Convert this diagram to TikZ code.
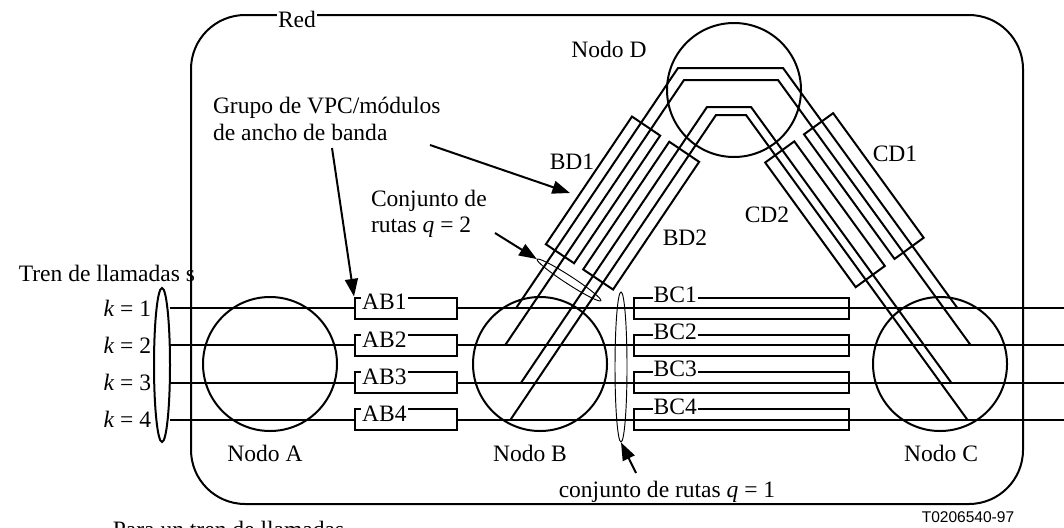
\documentclass[tikz,border=0pt]{standalone}
\usepackage{fontspec}
\setmainfont{Liberation Serif}
\newfontfamily\arialfont{Liberation Sans}
\usetikzlibrary{arrows.meta,shapes.geometric}
\tikzset{
  nodo/.style={draw,circle,minimum size=134*0.425pt,inner sep=0pt},
  caja/.style={draw,rectangle,minimum height=21*0.425pt,inner sep=0pt},
  etq/.style={fill=white,inner sep=0.5pt},
  flecha/.style={-{Triangle[length=7.5pt,width=5.5pt]}},
  conj/.style={draw,ellipse,line width=0.4pt,inner sep=0pt}
}
\begin{document}
\begin{tikzpicture}[x=0.425pt,y=-0.425pt,line width=0.85pt,font=\fontsize{10}{11.5}\selectfont]
\useasboundingbox (0,0) rectangle (1064,527);
\draw[rounded corners=23pt] (191,15) rectangle (1023,504);
\node[etq] (red) at (297,19) {Red};
\node[nodo] (A) at (270,364) {};\node[nodo] (B) at (540,364) {};
\node[nodo] (C) at (940,364) {};\node[nodo] (D) at (734,90) {};
\node[anchor=base] (nA) at (265,461) {Nodo A};\node[anchor=base] (nB) at (530,461) {Nodo B};
\node[anchor=base] (nC) at (941,461) {Nodo C};\node (nD) at (609,49) {Nodo D};
\node[anchor=west] (tren) at (10,273) {Tren de llamadas s};
\draw (162,365) ellipse [x radius=8,y radius=77];
\foreach \k in {1,...,4}{
  \pgfmathsetmacro{\y}{308+37.33*(\k-1)}
  \node[anchor=base east] (k\k) at (160,\y+8) {\textit{k} = \k};
  \node[caja,minimum width=102*0.425pt] (ab\k) at (406,\y) {};
  \node[caja,minimum width=215*0.425pt] (bc\k) at (741.5,\y) {};
  \node[etq,anchor=west] (lab\k) at (360,\y-6) {AB\k};
  \node[etq,anchor=west] (lbc\k) at (651.5,\y-13.5) {BC\k};
  \coordinate (s\k) at (170,\y);\coordinate (e\k) at (1064,\y);
  \draw (s\k) -- (ab\k.west);\draw (ab\k.east) -- (e\k);
}
\foreach \k/\yt/\xl/\xr in {1/68/678/783,2/80/684/778,3/107/707/751,4/115/716/746}{
  \pgfmathsetmacro{\y}{308+37.33*(\k-1)}
  \pgfmathsetmacro{\xb}{\xl-(\y-\yt)*0.6745}
  \pgfmathsetmacro{\xc}{\xr+(\y-\yt)*0.7265}
  \coordinate (pb\k) at (\xb,\y);\coordinate (pc\k) at (\xc,\y);
  \draw (pb\k) -- (\xl,\yt) -- (\xr,\yt) -- (pc\k);
}
\begin{scope}[shift={(678,68)},rotate=236]
\draw (66,11) rectangle (220,-23);\draw (66,-34) rectangle (220,-70);
\end{scope}
\begin{scope}[shift={(783,68)},rotate=-54]
\draw (66,-14) rectangle (220,22);\draw (66,34) rectangle (220,70);
\end{scope}
\node (bd1) at (572,162) {BD1};\node (bd2) at (685,238) {BD2};
\node (cd1) at (895,154) {CD1};\node (cd2) at (767,215) {CD2};
\node[anchor=north west,align=left,inner sep=0pt] (grupo) at (212,96) {Grupo de VPC/módulos\\de ancho de banda};
\node[anchor=north west,align=left,inner sep=0pt,font=\fontsize{10}{11}\selectfont] (conj2) at (370,189) {Conjunto de\\rutas \textit{q} = 2};
\node[anchor=base] (conj1) at (667,497.5) {conjunto de rutas \textit{q} = 1};
\node[anchor=east,font=\arialfont\fontsize{6.6}{8}\selectfont] (ref) at (1023,517) {T0206540-97};
\node[anchor=base west] (para) at (104,537.5) {Para un tren de llamadas};
\node[conj,minimum width=12*0.425pt,minimum height=150*0.425pt] (q1) at (621,367) {};
\node[conj,rotate=-33,minimum width=76*0.425pt,minimum height=8*0.425pt] (q2) at (569,280) {};
\coordinate (g1) at (332,148);\coordinate (g2) at (430,145);\coordinate (t2) at (570,193);
\coordinate (c2) at (495,233);\coordinate (c1) at (636,473);
\draw[flecha] (g1) -- (ab1.north west);
\draw[flecha] (g2) -- (t2);
\draw[flecha] (c2) -- (q2.west);
\draw[flecha] (c1) -- (q1.south);
\end{tikzpicture}
\end{document}
